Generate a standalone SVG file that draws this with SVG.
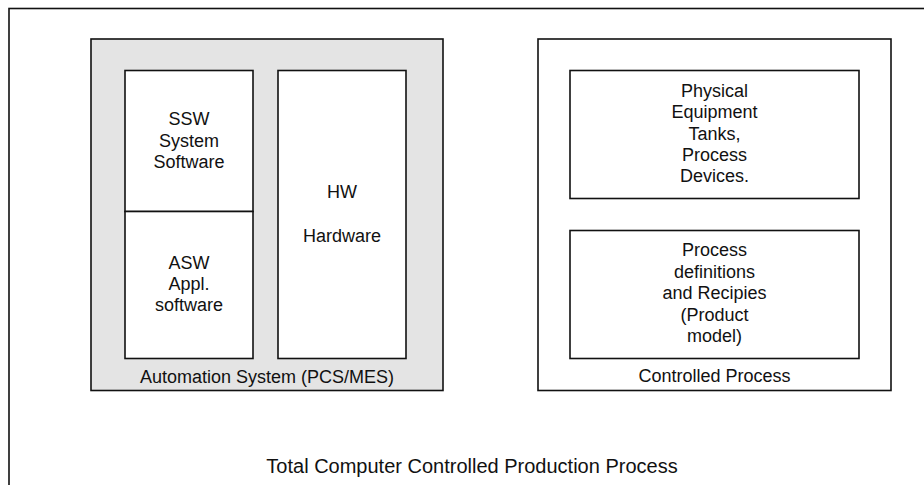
<svg xmlns="http://www.w3.org/2000/svg" width="924" height="485" viewBox="0 0 924 485">
<style>
.box{fill:#fff;stroke:#111;stroke-width:1.6}
.gray{fill:#e4e4e4;stroke:#111;stroke-width:1.6}
text{font-family:"Liberation Sans",Arial,sans-serif;font-size:18px;fill:#111;text-anchor:middle}
.big{font-size:20px}
</style>
<rect width="924" height="485" fill="#fff"/>
<g id="total">
<rect class="box" x="9" y="8.5" width="930" height="490"/>
<text class="big" x="472" y="473">Total Computer Controlled Production Process</text>
</g>
<g id="automation">
<rect class="gray" x="91" y="39" width="352" height="351.5"/>
<text x="267" y="383">Automation System (PCS/MES)</text>
</g>
<g id="ssw">
<rect class="box" x="125" y="70.5" width="128" height="141"/>
<text x="189" y="125">SSW</text>
<text x="189" y="147">System</text>
<text x="189" y="168">Software</text>
</g>
<g id="asw">
<rect class="box" x="125" y="211.5" width="128" height="147"/>
<text x="189" y="269">ASW</text>
<text x="189" y="290">Appl.</text>
<text x="189" y="311">software</text>
</g>
<g id="hw">
<rect class="box" x="278" y="70.5" width="128" height="288"/>
<text x="342" y="198">HW</text>
<text x="342" y="242">Hardware</text>
</g>
<g id="controlled">
<rect class="box" x="538" y="39" width="353" height="351.5"/>
<text x="714.5" y="382">Controlled Process</text>
</g>
<g id="physical">
<rect class="box" x="570" y="70.5" width="289" height="128"/>
<text x="714.5" y="97">Physical</text>
<text x="714.5" y="118">Equipment</text>
<text x="714.5" y="140">Tanks,</text>
<text x="714.5" y="161">Process</text>
<text x="714.5" y="182">Devices.</text>
</g>
<g id="recipes">
<rect class="box" x="570" y="230.5" width="289" height="128"/>
<text x="714.5" y="256">Process</text>
<text x="714.5" y="278">definitions</text>
<text x="714.5" y="299">and Recipies</text>
<text x="714.5" y="321">(Product</text>
<text x="714.5" y="342">model)</text>
</g>
<g id="connectors"></g>
</svg>
